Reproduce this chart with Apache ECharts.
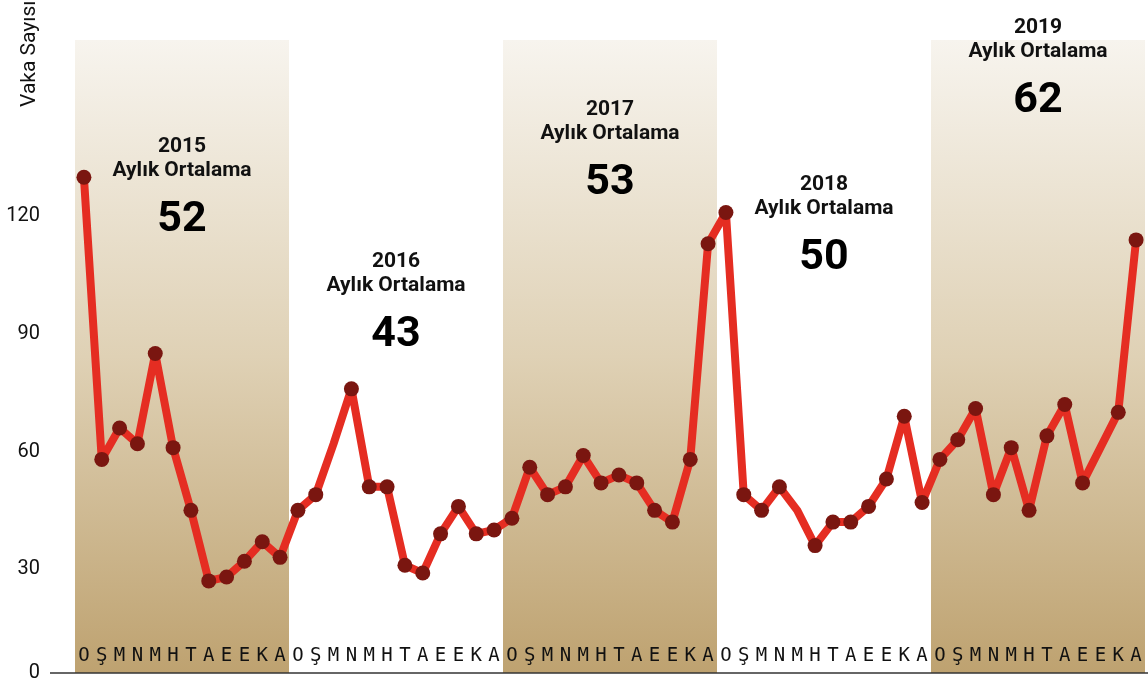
<!DOCTYPE html>
<html>
<head>
<meta charset="utf-8">
<script src="https://cdn.jsdelivr.net/npm/echarts@6/dist/echarts.min.js"></script>
<style>
html,body{margin:0;padding:0;background:#fff;}
#chart{width:1148px;height:685px;}
</style>
</head>
<body>
<div id="chart"></div>
<script>
const years = [2015, 2016, 2017, 2018, 2019];
const monthLetters = ['O','Ş','M','N','M','H','T','A','E','E','K','A'];
const cases2015 = [130, 58, 66, 62, 85, 61, 45, 27, 28, 32, 37, 33];
const cases2016 = [45, 49, 62, 76, 51, 51, 31, 29, 39, 46, 39, 40];
const cases2017 = [43, 56, 49, 51, 59, 52, 54, 52, 45, 42, 58, 113];
const cases2018 = [121, 49, 45, 51, 45, 36, 42, 42, 46, 53, 69, 47];
const cases2019 = [58, 63, 71, 49, 61, 45, 64, 72, 52, 61, 70, 114];
const monthlyAverages = [52, 43, 53, 50, 62];
const shadedYears = [2015, 2017, 2019];
const noMarkerIndex = [14, 40, 57];
const yTickValues = [0, 30, 60, 90, 120];

const allCases = [].concat(cases2015, cases2016, cases2017, cases2018, cases2019);
const categories = [];
years.forEach(y => monthLetters.forEach((m, i) => categories.push(y + '-' + (i + 1))));
const letterOf = c => monthLetters[parseInt(c.split('-')[1], 10) - 1];

const AXIS_BASE = 3.5;   // the baseline drawn at the bottom of the plot
const lineData = allCases.map((v, i) =>
  noMarkerIndex.indexOf(i) >= 0 ? { value: v, symbol: 'none' } : v);
const bandData = shadedYears.map(y => {
  const k = years.indexOf(y);
  return [k * 12, (k + 1) * 12];
});

const chart = echarts.init(document.getElementById('chart'), null, { renderer: 'canvas' });

const option = {
  animation: false,
  backgroundColor: '#ffffff',
  grid: { left: 75, right: 3, top: 40, bottom: 12 },
  xAxis: [{
    type: 'category',
    data: categories,
    boundaryGap: true,
    axisLine: { show: false },
    axisTick: { show: false },
    axisLabel: {
      inside: true,
      interval: 0,
      margin: 7,
      formatter: letterOf,
      fontFamily: 'DejaVu Sans Mono',
      fontSize: 19,
      color: '#111'
    },
    splitLine: { show: false }
  }, {
    type: 'value',
    min: 0,
    max: years.length * 12,
    show: false
  }],
  yAxis: {
    type: 'value',
    min: AXIS_BASE,
    max: 165,
    axisLine: { show: false },
    axisTick: { show: false },
    splitLine: { show: false },
    axisLabel: {
      customValues: yTickValues.map(v => v === 0 ? AXIS_BASE : v),
      formatter: v => (v === AXIS_BASE ? '0' : String(v)),
      fontFamily: 'Roboto',
      fontSize: 20,
      color: '#111',
      margin: 35
    }
  },
  series: [{
    type: 'custom',
    xAxisIndex: 1,
    yAxisIndex: 0,
    z: 0,
    silent: true,
    encode: { x: [0, 1] },
    data: bandData,
    renderItem: function (params, api) {
      const cs = params.coordSys;
      const x0 = api.coord([api.value(0), AXIS_BASE])[0];
      const x1 = api.coord([api.value(1), AXIS_BASE])[0];
      return {
        type: 'rect',
        shape: { x: x0, y: cs.y, width: x1 - x0, height: cs.height },
        style: {
          fill: new echarts.graphic.LinearGradient(0, 0, 0, 1, [
            { offset: 0, color: '#f7f4ee' },
            { offset: 0.5, color: '#dfd1b5' },
            { offset: 1, color: '#bea270' }
          ])
        }
      };
    }
  }, {
    type: 'line',
    xAxisIndex: 0,
    yAxisIndex: 0,
    z: 3,
    data: lineData,
    symbol: 'circle',
    symbolSize: 15,
    lineStyle: { color: '#e52d22', width: 8, join: 'round' },
    itemStyle: { color: '#7a1610', borderWidth: 0 },
    emphasis: { disabled: true }
  }]
};
chart.setOption(option);

// annotations and baseline
const graphics = [];
const bottomY = chart.convertToPixel({ yAxisIndex: 0 }, AXIS_BASE);
graphics.push({
  type: 'line', z: 10,
  shape: { x1: 50, y1: bottomY, x2: 1148, y2: bottomY },
  style: { stroke: '#333', lineWidth: 1.5 }
});
graphics.push({
  type: 'text', z: 10, x: 30, y: 107, rotation: Math.PI / 2,
  style: { text: 'Vaka Sayısı', fontFamily: 'Roboto', fontSize: 21, fill: '#111',
           textAlign: 'left', textVerticalAlign: 'middle' }
});
const annotationTop = [147, 262, 110, 185, 28];
years.forEach((y, k) => {
  const cx = chart.convertToPixel({ xAxisIndex: 1 }, k * 12 + 6);
  const t = annotationTop[k];
  graphics.push({
    type: 'text', z: 10, x: cx, y: t,
    style: { text: String(y), fontFamily: 'Roboto', fontWeight: 'bold', fontSize: 21, fill: '#111',
             textAlign: 'center', textVerticalAlign: 'middle' }
  });
  graphics.push({
    type: 'text', z: 10, x: cx, y: t + 24,
    style: { text: 'Aylık Ortalama', fontFamily: 'Roboto', fontWeight: 'bold', fontSize: 21, fill: '#111',
             textAlign: 'center', textVerticalAlign: 'middle' }
  });
  graphics.push({
    type: 'text', z: 10, x: cx, y: t + 73,
    style: { text: String(monthlyAverages[k]), fontFamily: 'Roboto', fontWeight: 'bold', fontSize: 43, fill: '#000',
             textAlign: 'center', textVerticalAlign: 'middle' }
  });
});
chart.setOption({ graphic: graphics });
</script>
</body>
</html>
